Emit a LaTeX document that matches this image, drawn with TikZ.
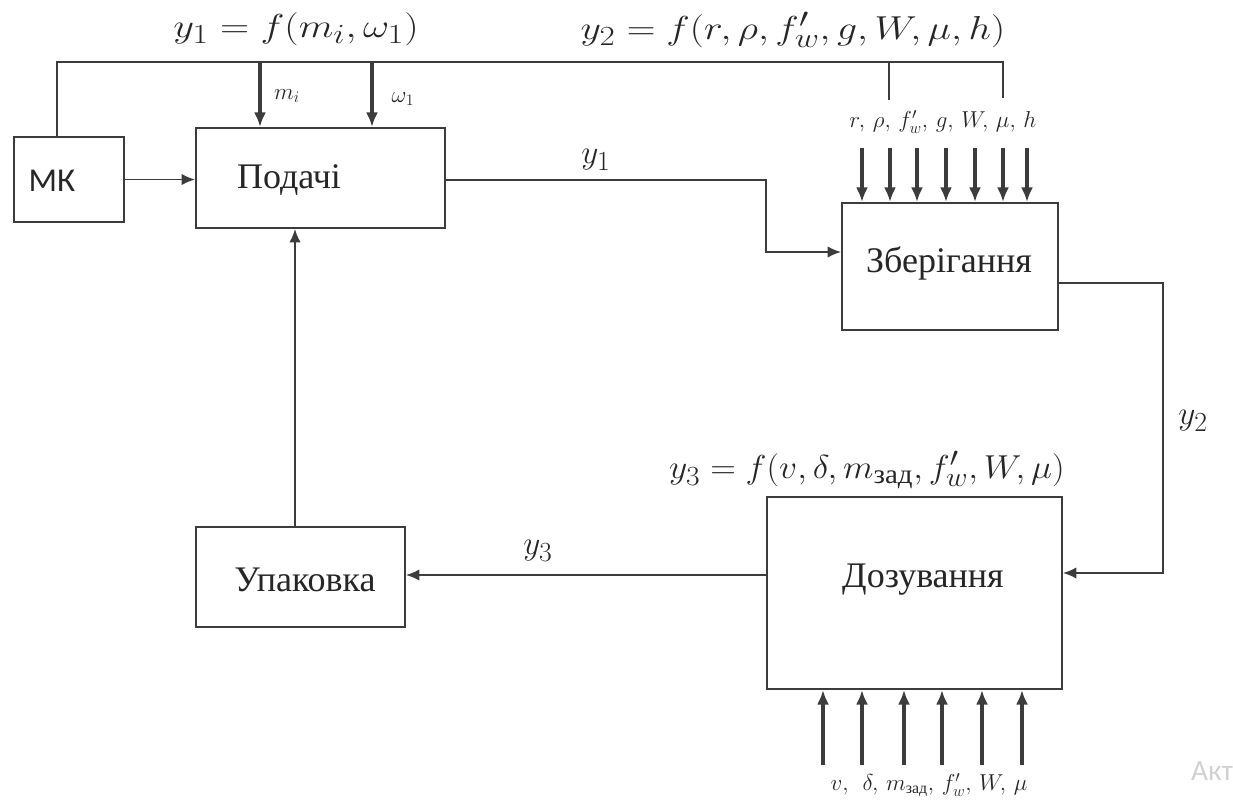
\documentclass[tikz,border=0pt]{standalone}
\usepackage{amsmath}
\usepackage{graphicx}
\usepackage{fontspec}
\setmainfont{Liberation Serif}
\newfontfamily\mksans{Carlito}
\usetikzlibrary{arrows.meta}
\definecolor{ln}{HTML}{3C3C3C}
\definecolor{tx}{HTML}{262626}
\begin{document}
\begin{tikzpicture}[x=0.75pt,y=-0.75pt,
  box/.style={draw=ln,line width=1.4pt,inner sep=0pt,fill=white},
  wire/.style={draw=ln,line width=1.4pt},
  arr/.style={wire,-{Latex[length=10pt,width=8.5pt]}},
  inarr/.style={draw=ln,line width=2.4pt,-{Latex[length=11pt,width=9pt]}},
  lbl/.style={text=tx,inner sep=0pt,font=\fontsize{27}{30}\selectfont},
  big/.style={text=tx,inner sep=0pt,font=\fontsize{29}{32}\selectfont},
  small/.style={text=tx,inner sep=0pt,font=\fontsize{17}{19}\selectfont}]
\useasboundingbox (0,0) rectangle (1233,800);
% boxes
\node[box,minimum width=110*0.75pt,minimum height=85*0.75pt] (mk) at (69,179.5) {};
\node[box,minimum width=249*0.75pt,minimum height=100*0.75pt] (pod) at (320.5,178) {};
\node[box,minimum width=216*0.75pt,minimum height=127*0.75pt] (zb) at (950,266.5) {};
\node[box,minimum width=295*0.75pt,minimum height=192*0.75pt] (doz) at (914.5,593) {};
\node[box,minimum width=209*0.75pt,minimum height=100*0.75pt] (up) at (300.5,577) {};
% box texts
\node[lbl,font=\mksans\fontsize{25}{28}\selectfont] (mkt) at (52,181) {МК};
\node[lbl] (podt) at (289,180) {Подачі};
\node[lbl] (zbt) at (949,263) {Зберігання};
\node[lbl] (dozt) at (923,580) {Дозування};
\node[lbl] (upt) at (305,580) {Упаковка};
% formulas
\node[big] (f1) at (296,29) {\scalebox{1.22}[1]{$y_1 = f(m_i,\omega_1)$}};
\node[big] (f2) at (793,30) {\scalebox{1.2}[1]{$y_2 = f(r,\rho,f_w',g,W,\mu,h)$}};
\node[big] (f3) at (867,470) {\scalebox{1.07}[1]{$y_3 = f(v,\delta,m_{\text{зад}},f_w',W,\mu)$}};
% top bus
\coordinate (tl) at (57,62);
\coordinate (tr) at (1003,62);
\coordinate (mi) at (260,62);
\coordinate (om) at (372,62);
\coordinate (b1) at (889,62);
\coordinate (b1e) at (889,100);
\coordinate (b2e) at (1003,98);
\draw[wire] (mk.north -| tl) -- (tl) -- (tr) -- (b2e);
\draw[wire] (b1) -- (b1e);
\draw[inarr] (mi) -- (mi |- pod.north);
\draw[inarr] (om) -- (om |- pod.north);
\node[small] (mil) at (287,96) {$m_i$};
\node[small] (oml) at (403,99) {$\omega_1$};
% storage inputs
\node[small] (zbin) at (943,122) {$r,\,\rho,\,f_w',\,g,\,W,\,\mu,\,h$};
\foreach \x [count=\i] in {862,890,917,946,975,1003,1027}{
  \coordinate (zi\i) at (\x,148);
  \draw[inarr] (zi\i) -- (zi\i |- zb.north);
}
% dosing inputs
\foreach \x [count=\i] in {823,862,904,942,982,1022}{
  \coordinate (di\i) at (\x,765);
  \draw[inarr] (di\i) -- (di\i |- doz.south);
}
\node[small] (dozin) at (929,785) {$v,\;\,\delta,\,m_{\text{зад}},\,f_w',\,W,\,\mu$};
% connectors
\draw[arr] (mk.east) -- (mk.east -| pod.west);
\coordinate (c1) at (766,180);
\coordinate (c2) at (766,252);
\draw[arr] (pod.east |- c1) -- (c1) -- (c2) -- (c2 -| zb.west);
\node[big] (y1) at (596,160) {$y_1$};
\coordinate (c3) at (1163,283);
\coordinate (c4) at (1163,573);
\draw[arr] (zb.east |- c3) -- (c3) -- (c4) -- (c4 -| doz.east);
\node[big] (y2) at (1193,421) {$y_2$};
\coordinate (c5) at (767,575);
\draw[arr] (c5) -- (c5 -| up.east);
\node[big] (y3) at (538,551) {$y_3$};
\draw[arr] (up.north -| 295,0) -- (pod.south -| 295,0);
\node[text=black!18,inner sep=0pt,font=\fontsize{22}{24}\selectfont] (akt) at (1212,771) {\mksans Акт};
\end{tikzpicture}
\end{document}
